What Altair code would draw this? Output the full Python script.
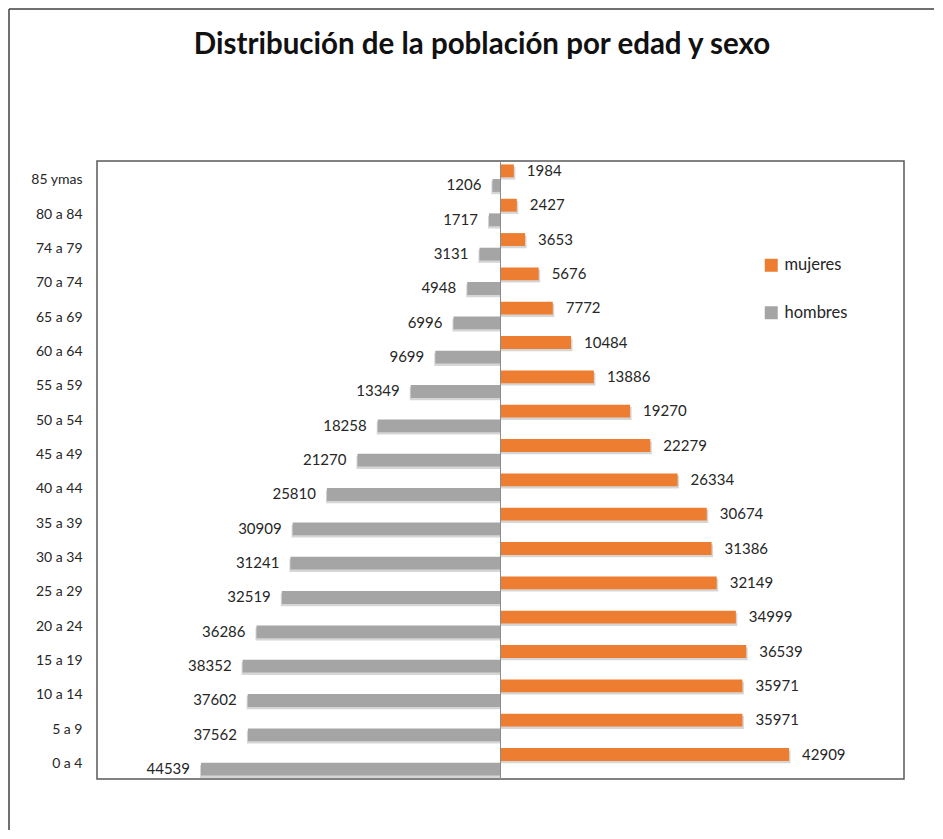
import altair as alt
import pandas as pd

ages = ["85 ymas", "80 a 84", "74 a 79", "70 a 74", "65 a 69", "60 a 64", "55 a 59",
        "50 a 54", "45 a 49", "40 a 44", "35 a 39", "30 a 34", "25 a 29", "20 a 24",
        "15 a 19", "10 a 14", "5 a 9", "0 a 4"]
mujeres = [1984, 2427, 3653, 5676, 7772, 10484, 13886, 19270, 22279, 26334, 30674,
           31386, 32149, 34999, 36539, 35971, 35971, 42909]
hombres = [1206, 1717, 3131, 4948, 6996, 9699, 13349, 18258, 21270, 25810, 30909,
           31241, 32519, 36286, 38352, 37602, 37562, 44539]
series = ["mujeres", "hombres"]
colors = ["#ED7D31", "#A5A5A5"]
title_text = "Distribución de la población por edad y sexo"

rows = []
for a, m, h in zip(ages, mujeres, hombres):
    rows.append({"edad": a, "sexo": "mujeres", "valor": m, "pos": m})
    rows.append({"edad": a, "sexo": "hombres", "valor": h, "pos": -h})
df = pd.DataFrame(rows)

FONT = "Lato"
W, H = 807, 618

y_enc = alt.Y("edad:N", sort=ages,
              scale=alt.Scale(domain=ages, paddingInner=0.2, paddingOuter=0.1),
              axis=alt.Axis(title=None, domain=False, ticks=False, labelPadding=15,
                            labelFontSize=14, labelFont=FONT, labelColor="#262626",
                            labelAlign="right", labelOffset=2))
x_enc = alt.X("pos:Q", scale=alt.Scale(domain=[-60000, 60000], nice=False, zero=False),
              axis=None)
yoff = alt.YOffset("sexo:N", sort=series,
                   scale=alt.Scale(domain=series, paddingInner=0.12))
color_enc = alt.Color("sexo:N", sort=series,
                      scale=alt.Scale(domain=series, range=colors),
                      legend=alt.Legend(title=None, orient="none", legendX=666, legendY=96,
                                        symbolType="square", symbolSize=169,
                                        symbolStrokeWidth=0, labelFontSize=16.5,
                                        labelFont=FONT, labelColor="#262626",
                                        rowPadding=30.5, labelOffset=5))

base = alt.Chart(df)

shadow_m = base.transform_filter(alt.datum.sexo == "mujeres").mark_bar(
    color="#000000", opacity=0.16, height=12.9, yOffset=-5.0, xOffset=1.5).encode(
    x=x_enc, x2=alt.datum(0), y=y_enc)
shadow_h = base.transform_filter(alt.datum.sexo == "hombres").mark_bar(
    color="#000000", opacity=0.16, height=12.9, yOffset=9.6, xOffset=-1.0).encode(
    x=x_enc, x2=alt.datum(0), y=y_enc)

bars = base.mark_bar().encode(
    x=x_enc, x2=alt.datum(0), y=y_enc, yOffset=yoff, color=color_enc)

lab_m = base.transform_filter(alt.datum.sexo == "mujeres").mark_text(
    align="left", baseline="middle", dx=13, fontSize=15, font=FONT, color="#262626"
).encode(x=x_enc, y=y_enc, yOffset=yoff, text=alt.Text("valor:Q", format="d"))

lab_h = base.transform_filter(alt.datum.sexo == "hombres").mark_text(
    align="right", baseline="middle", dx=-11, fontSize=15, font=FONT, color="#262626"
).encode(x=x_enc, y=y_enc, yOffset=yoff, text=alt.Text("valor:Q", format="d"))

center = alt.Chart(pd.DataFrame({"v": [0]})).mark_rule(color="#8c8c8c", strokeWidth=1).encode(
    x=alt.X("v:Q", scale=alt.Scale(domain=[-60000, 60000], nice=False, zero=False), axis=None))

one = pd.DataFrame({"t": [title_text]})
title = alt.Chart(one).mark_text(
    fontSize=29.5, fontWeight="bold", font=FONT, color="#111111",
    align="center", baseline="middle").encode(
    x=alt.value(385), y=alt.value(-116), text="t:N")

frame_top = alt.Chart(one).mark_rule(color="#404040", strokeWidth=1.5).encode(
    x=alt.value(-88), x2=alt.value(837), y=alt.value(-152))
frame_left = alt.Chart(one).mark_rule(color="#404040", strokeWidth=1.5).encode(
    x=alt.value(-88), y=alt.value(-152), y2=alt.value(669))

chart = alt.layer(shadow_m, shadow_h, bars, center, lab_m, lab_h, title,
                  frame_top, frame_left).properties(
    width=W, height=H, padding=0, background="white"
).configure_view(stroke="#595959", strokeWidth=1.5)

chart.save("out.html", embed_options={"renderer": "svg", "actions": False})
